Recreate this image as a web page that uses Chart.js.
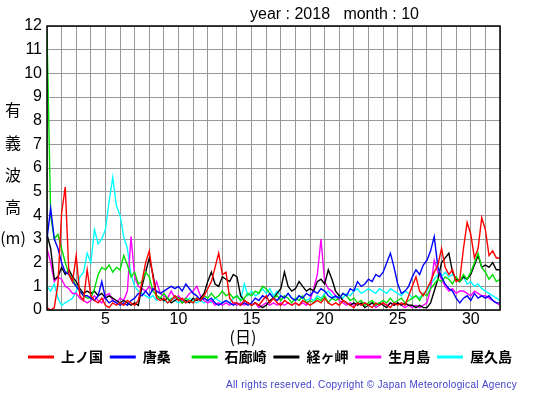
<!DOCTYPE html>
<html>
<head>
<meta charset="utf-8">
<script src="https://cdn.jsdelivr.net/npm/chart.js@4"></script>
<style>
  html, body { margin: 0; padding: 0; background: #fff; }
  #wrap { width: 555px; height: 395px; }
</style>
</head>
<body>
<div id="wrap"><canvas id="waveChart" width="555" height="395"></canvas></div>
<script>
// sampling every 6 hours, day 1.00 .. 32.00
const times = Array.from({ length: 125 }, (_, i) => 1 + i * 0.25);

const stations = ["上ノ国", "唐桑", "石廊崎", "経ヶ岬", "生月島", "屋久島"];
const colors = ["#ff0000", "#0000ff", "#00dd00", "#000000", "#ff00ff", "#00ffff"];

const kaminokuni = [
  0.1, 0.0, 0.1, 1.1,  4.1, 5.2, 1.5, 1.2,  2.3, 0.6, 0.4, 1.7,  0.6, 0.4, 0.3, 0.5,
  0.2, 0.1, 0.3, 0.2,  0.3, 0.2, 0.4, 0.3,  0.2, 0.4, 1.2, 2.0,  2.5, 1.4, 0.5, 0.4,
  0.5, 0.3, 0.4, 0.6,  0.4, 0.5, 0.3, 0.4,  0.3, 0.5, 0.4, 0.6,  0.9, 1.2, 1.8, 2.4,
  1.5, 1.6, 0.5, 0.3,  0.3, 0.2, 0.4, 0.3,  0.2, 0.3, 0.2, 0.4,  0.6, 0.3, 0.5, 0.3,
  0.2, 0.4, 0.3, 0.2,  0.3, 0.2, 0.4, 0.3,  0.2, 0.3, 0.4, 0.3,  0.5, 0.3, 0.2, 0.3,
  0.2, 0.4, 0.3, 0.2,  0.1, 0.3, 0.2, 0.3,  0.2, 0.1, 0.3, 0.2,  0.3, 0.2, 0.1, 0.3,
  0.2, 0.3, 0.2, 0.6,  1.0, 1.4, 0.8, 0.6,  0.9, 1.2, 1.6, 1.9,  2.6, 1.8, 1.5, 1.7,
  1.2, 1.3, 2.6, 3.7,  3.2, 2.2, 2.6, 3.9,  3.4, 2.3, 2.5, 2.2,  2.2
];
const karakuwa = [
  3.0, 4.3, 3.0, 2.6,  2.0, 1.6, 1.5, 1.2,  1.0, 0.8, 0.6, 0.6,  0.5, 0.4, 0.6, 1.2,
  0.5, 0.3, 0.4, 0.3,  0.2, 0.3, 0.2, 0.4,  0.5, 0.7, 0.6, 0.8,  0.6, 0.9, 0.8, 0.7,
  0.8, 0.9, 1.0, 0.9,  1.0, 0.8, 1.1, 0.9,  0.7, 0.6, 0.4, 0.5,  0.4, 0.5, 0.3, 0.2,
  0.3, 0.4, 0.3, 0.2,  0.3, 0.2, 0.3, 0.2,  0.3, 0.5, 0.4, 0.6,  0.5, 0.7, 0.5, 0.4,
  0.6, 0.5, 0.7, 0.5,  0.4, 0.6, 0.5, 0.7,  0.6, 0.8, 0.7, 0.9,  0.8, 0.6, 0.5, 0.6,
  0.5, 0.7, 0.6, 0.9,  0.8, 1.2, 1.0, 1.1,  1.3, 1.2, 1.5, 1.4,  1.6, 2.0, 2.4, 1.8,
  1.1, 0.7, 0.8, 1.0,  1.4, 1.7, 1.5, 1.9,  2.1, 2.5, 3.1, 1.8,  1.4, 1.1, 0.9, 0.8,
  0.5, 0.3, 0.5, 0.6,  0.4, 0.7, 0.5, 0.6,  0.5, 0.6, 0.4, 0.3,  0.3
];
const irozaki = [
  11.7, 4.0, 3.0, 3.2,  2.6, 2.0, 1.5, 1.3,  1.0, 0.8, 0.6, 0.5,  0.5, 0.9, 1.5, 1.8,
  1.7, 1.9, 1.6, 1.8,  1.7, 2.3, 1.9, 1.4,  1.6, 1.1, 1.2, 1.6,  1.4, 0.8, 0.6, 0.5,
  0.7, 0.5, 0.4, 0.6,  0.5, 0.3, 0.5, 0.4,  0.3, 0.5, 0.4, 0.6,  0.5, 0.7, 0.5, 0.6,
  0.8, 0.6, 0.7, 0.5,  0.6, 0.4, 0.5, 0.7,  0.6, 0.8, 0.7, 1.0,  0.9, 0.7, 0.5, 0.6,
  0.4, 0.6, 0.5, 0.3,  0.5, 0.4, 0.6, 0.3,  0.4, 0.3, 0.5, 0.4,  0.6, 0.3, 0.5, 0.4,
  0.5, 0.7, 0.6, 0.4,  0.5, 0.3, 0.4, 0.2,  0.3, 0.4, 0.2, 0.3,  0.4, 0.3, 0.5, 0.3,
  0.4, 0.5, 0.3, 0.4,  0.5, 0.6, 0.4, 0.7,  0.6, 0.9, 1.1, 1.3,  1.2, 1.4, 1.3, 1.1,
  1.4, 1.2, 1.5, 1.3,  1.6, 2.0, 2.4, 1.8,  1.6, 1.3, 1.5, 1.2,  1.3
];
const kyogamisaki = [
  3.2, 2.6, 1.3, 1.4,  1.8, 1.5, 1.7, 1.4,  1.2, 0.9, 0.7, 0.8,  0.7, 0.8, 0.6, 0.7,
  0.5, 0.6, 0.5, 0.4,  0.3, 0.4, 0.3, 0.2,  0.3, 0.2, 1.0, 1.6,  2.2, 1.5, 0.6, 0.5,
  0.4, 0.5, 0.3, 0.4,  0.5, 0.3, 0.4, 0.3,  0.5, 0.4, 0.5, 0.7,  1.2, 1.6, 1.1, 1.0,
  1.4, 1.3, 1.2, 1.5,  1.4, 0.6, 0.4, 0.3,  0.2, 0.3, 0.2, 0.1,  0.2, 0.4, 0.5, 0.7,
  0.9, 1.6, 1.0, 0.8,  0.9, 1.2, 1.0, 0.8,  0.9, 0.8, 1.2, 1.3,  1.1, 1.7, 1.3, 0.8,
  0.6, 0.4, 0.3, 0.2,  0.3, 0.2, 0.3, 0.1,  0.2, 0.3, 0.2, 0.3,  0.2, 0.1, 0.3, 0.2,
  0.3, 0.2, 0.3, 0.2,  0.2, 0.1, 0.2, 0.1,  0.1, 0.3, 0.8, 1.3,  2.0, 2.2, 2.4, 1.6,
  1.3, 1.2, 1.4, 1.3,  1.5, 1.9, 2.3, 1.8,  1.9, 1.8, 2.0, 1.7,  1.7
];
const ikitsukishima = [
  2.6, 2.0, 1.2, 1.4,  1.3, 1.0, 0.9, 0.7,  0.7, 0.5, 0.4, 0.3,  0.4, 0.6, 0.4, 0.3,
  0.6, 0.7, 0.4, 0.3,  0.5, 0.4, 0.8, 3.1,  1.4, 1.0, 0.9, 0.8,  1.0, 0.8, 1.2, 0.7,
  0.6, 0.5, 0.8, 0.5,  0.6, 0.4, 0.5, 0.7,  0.8, 1.0, 0.6, 0.4,  0.3, 0.4, 0.2, 0.3,
  0.2, 0.3, 0.2, 0.3,  0.2, 0.3, 0.2, 0.3,  0.2, 0.3, 0.1, 0.2,  0.3, 0.2, 0.3, 0.2,
  0.3, 0.2, 0.3, 0.2,  0.3, 0.2, 0.3, 0.2,  0.4, 0.9, 1.5, 3.0,  1.2, 0.9, 0.8, 0.6,
  0.4, 0.3, 0.2, 0.3,  0.2, 0.3, 0.2, 0.3,  0.2, 0.3, 0.1, 0.2,  0.3, 0.2, 0.3, 0.2,
  0.3, 0.2, 0.1, 0.2,  0.1, 0.2, 0.1, 0.2,  0.3, 0.9, 2.1, 1.6,  1.3, 1.0, 0.8, 0.9,
  0.7, 0.8, 0.8, 0.7,  0.6, 0.8, 0.7, 0.6,  0.6, 0.5, 0.4, 0.3,  0.2
];
const yakushima = [
  1.0, 0.8, 1.1, 0.5,  0.2, 0.3, 0.4, 0.5,  0.8, 1.4, 1.6, 2.4,  2.0, 3.4, 2.8, 3.0,
  3.4, 4.6, 5.6, 4.4,  4.0, 3.1, 2.6, 1.5,  1.0, 0.8, 0.7, 0.6,  0.5, 0.6, 0.4, 0.5,
  0.4, 0.3, 0.5, 0.4,  0.3, 0.4, 0.3, 0.5,  0.4, 0.3, 0.4, 0.3,  0.4, 0.3, 0.5, 0.4,
  0.3, 0.4, 0.3, 0.5,  0.6, 0.4, 1.1, 0.6,  0.8, 0.6, 0.7, 0.9,  0.7, 0.9, 0.6, 0.8,
  0.6, 0.5, 0.7, 0.5,  0.4, 0.6, 0.5, 0.4,  0.5, 0.4, 0.6, 0.5,  0.7, 0.8, 0.6, 0.5,
  0.6, 0.5, 0.7, 0.6,  0.8, 0.9, 0.7, 0.8,  0.9, 0.8, 0.7, 0.9,  0.8, 0.7, 0.9, 0.8,
  0.7, 0.6, 0.8, 0.7,  0.5, 0.6, 0.5, 0.7,  0.8, 1.1, 1.3, 1.5,  1.4, 1.6, 1.4, 1.5,
  1.3, 1.2, 1.4, 1.1,  1.2, 1.0, 1.1, 0.9,  0.8, 0.7, 0.6, 0.5,  0.4
];
const series = [kaminokuni, karakuwa, irozaki, kyogamisaki, ikitsukishima, yakushima];

const yTicks = [0, 1, 2, 3, 4, 5, 6, 7, 8, 9, 10, 11, 12];
const xLabelDays = [5, 10, 15, 20, 25, 30];
const yTitleChars = ["有", "義", "波", "高", "(m)"];

const cjk = '"Noto Sans CJK JP", sans-serif';
const latin = '"Liberation Sans", Arial, sans-serif';

const decorations = {
  id: "decorations",
  afterDraw(chart) {
    const ctx = chart.ctx;
    const a = chart.chartArea;
    ctx.save();
    // frame
    ctx.strokeStyle = "#000";
    ctx.lineWidth = 1.5;
    ctx.strokeRect(a.left, a.top, a.right - a.left, a.bottom - a.top);

    // title
    ctx.fillStyle = "#000";
    ctx.font = "16px " + latin;
    ctx.textBaseline = "alphabetic";
    ctx.textAlign = "left";
    ctx.fillText("year : 2018   month : 10", 250, 19);

    // vertical y title
    ctx.font = "16px " + cjk;
    ctx.textAlign = "center";
    ctx.textBaseline = "middle";
    const ys = [110, 143, 175, 207, 238];
    yTitleChars.forEach((c, i) => ctx.fillText(c, 13, ys[i]));

    // x title
    ctx.fillText("(日)", 243, 337);

    // legend
    ctx.font = "bold 14px " + cjk;
    ctx.textAlign = "left";
    stations.forEach((name, i) => {
      const x0 = 28 + i * 81.8;
      ctx.strokeStyle = colors[i];
      ctx.lineWidth = 3;
      ctx.beginPath();
      ctx.moveTo(x0, 357);
      ctx.lineTo(x0 + 26, 357);
      ctx.stroke();
      ctx.fillStyle = "#000";
      ctx.fillText(name, x0 + 33, 357);
    });

    // copyright
    const note = "All rights reserved. Copyright \u00a9 Japan Meteorological Agency";
    ctx.font = "10px " + latin;
    const w = ctx.measureText(note).width;
    ctx.letterSpacing = ((291 - w) / (note.length - 1)).toFixed(2) + "px";
    ctx.fillStyle = "#4040cc";
    ctx.fillText(note, 226, 385);
    ctx.restore();
  }
};

new Chart(document.getElementById("waveChart"), {
  type: "line",
  data: {
    datasets: series.map((vals, i) => ({
      label: stations[i],
      data: vals.map((v, j) => ({ x: times[j], y: v })),
      borderColor: colors[i],
      borderWidth: 1.4,
      pointRadius: 0,
      tension: 0,
      fill: false
    }))
  },
  options: {
    responsive: false,
    animation: false,
    devicePixelRatio: 1,
    layout: { padding: { left: 0, top: 26, right: 55, bottom: 63 } },
    plugins: {
      legend: { display: false },
      tooltip: { enabled: false }
    },
    scales: {
      x: {
        type: "linear",
        min: 1,
        max: 32,
        afterFit: s => { s.height = 22; },
        afterBuildTicks: s => { s.ticks = times.filter(t => Number.isInteger(t)).map(v => ({ value: v })); },
        ticks: {
          autoSkip: false,
          maxRotation: 0,
          padding: 0,
          color: "#000",
          font: { family: latin, size: 16 },
          callback: v => (xLabelDays.includes(v) ? String(v) : "")
        },
        grid: { color: "#999", lineWidth: 1, drawTicks: false },
        border: { display: false }
      },
      y: {
        min: 0,
        max: 12,
        afterFit: s => { s.width = 47; },
        afterBuildTicks: s => { s.ticks = yTicks.map(v => ({ value: v })); },
        ticks: {
          padding: 5,
          color: "#000",
          font: { family: latin, size: 16 }
        },
        grid: { color: "#999", lineWidth: 1, drawTicks: false },
        border: { display: false }
      }
    }
  },
  plugins: [decorations]
});
</script>
</body>
</html>
